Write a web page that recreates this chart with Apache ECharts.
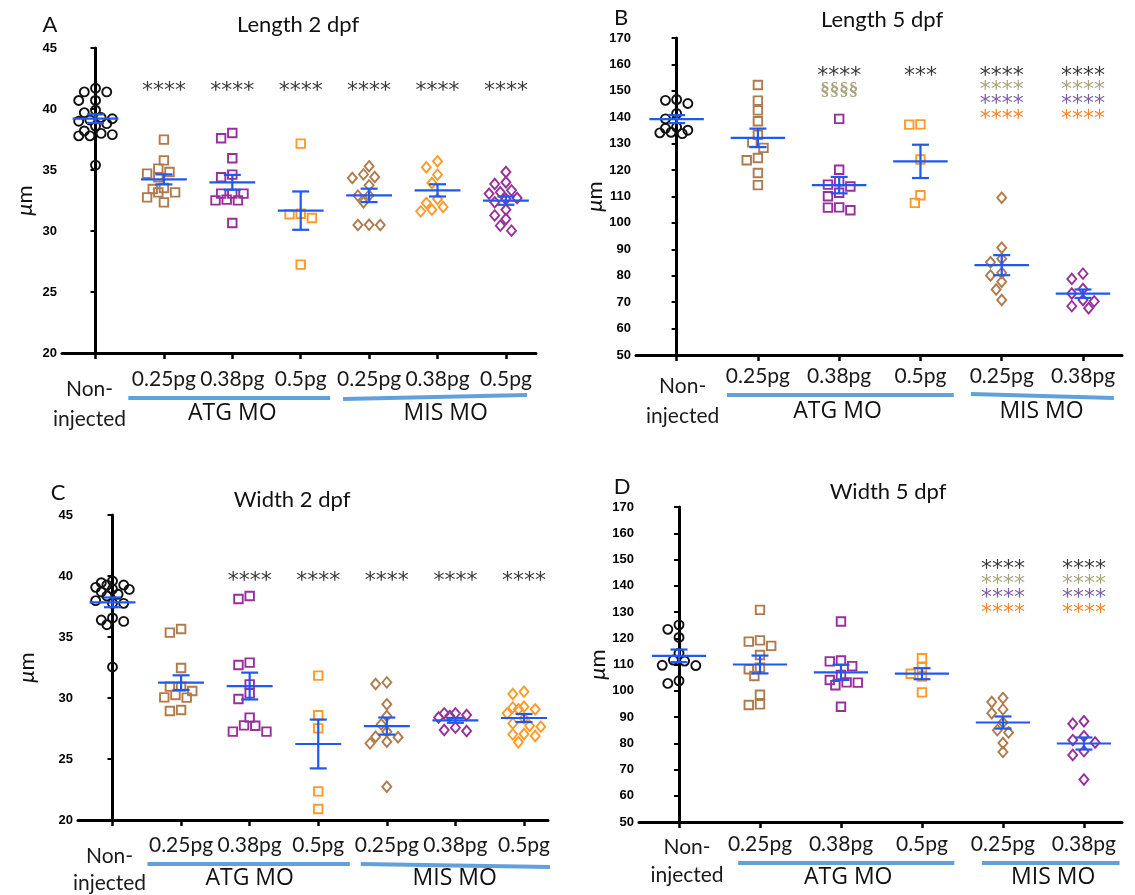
<!DOCTYPE html>
<html><head><meta charset="utf-8">
<script src="https://cdn.jsdelivr.net/npm/echarts@6/dist/echarts.min.js"></script>
<style>html,body{margin:0;padding:0;background:#fff}#c{width:1135px;height:895px}</style>
</head><body><div id="c"></div>
<script>
// ---------- categories / tick labels ----------
const catLabels7 = ['Non-injected','0.25pg','0.38pg','0.5pg','0.25pg','0.38pg','0.5pg'];
const catLabels6 = ['Non-injected','0.25pg','0.38pg','0.5pg','0.25pg','0.38pg'];
const groupNames = ['ATG MO','MIS MO'];

// ---------- Panel A: Length 2 dpf (µm) ----------
const lenTwoDpf = [
  [41.7,41.4,41.4,40.7,40.7,39.9,39.7,39.3,39.2,39.1,39.0,38.8,38.6,38.2,38.0,37.9,37.8,37.8,35.4],
  [37.49,35.79,35.11,34.84,34.70,34.40,33.52,33.44,33.17,33.17,32.76,32.35],
  [38.03,37.60,35.96,34.62,34.40,33.06,33.06,33.06,32.51,32.51,32.57,30.66],
  [37.16,31.37,31.42,31.07,27.24],
  [35.30,34.43,34.64,34.34,33.74,32.90,32.92,32.35,30.52,30.49,30.49],
  [35.71,35.22,34.62,33.93,32.62,32.30,31.97,31.75,31.61],
  [34.84,33.99,33.85,33.33,33.17,33.06,32.70,32.62,32.35,31.75,31.28,30.98,30.44,30.03]
];
const lenTwoDpfMean = [39.21,34.23,33.99,31.67,32.92,33.33,32.49];
const lenTwoDpfSem  = [0.35,0.41,0.61,1.57,0.55,0.50,0.34];

// ---------- Panel B: Length 5 dpf ----------
const lenFiveDpf = [
  [146.7,146.4,145.2,141.4,139.4,136.3,135.8,135.1,134.3,134.1,133.8],
  [152.2,146.3,142.6,138.5,133.4,130.5,128.4,124.6,123.7,118.9,114.3],
  [139.4,120.1,115.8,114.5,113.8,111.4,110.1,105.9,105.8,104.8],
  [137.3,137.2,124.0,110.5,107.6],
  [109.5,90.6,86.4,85.1,81.1,80.1,77.7,74.8,70.8],
  [80.8,78.8,75.0,73.3,70.8,70.3,68.5,67.7]
];
const lenFiveDpfMean = [139.3,132.2,114.3,123.3,84.0,73.2];
const lenFiveDpfSem  = [1.5,3.5,3.1,6.3,3.8,1.6];

// ---------- Panel C: Width 2 dpf ----------
const widTwoDpf = [
  [39.59,39.45,39.26,39.26,39.07,38.93,38.90,38.69,38.50,38.36,37.98,37.76,37.76,36.56,36.39,36.28,36.01,32.54],
  [35.66,35.36,32.46,30.93,30.93,30.57,30.25,30.05,30.03,29.02,28.93],
  [38.36,38.11,32.90,32.70,31.12,30.38,29.92,28.39,27.76,27.73,27.24,27.24],
  [31.83,28.58,27.51,22.35,20.90],
  [31.28,31.15,29.48,28.52,27.84,27.24,26.83,26.78,26.42,26.28,22.73],
  [28.74,28.74,28.61,28.52,28.40,27.57,27.38,27.30],
  [30.52,30.33,29.29,29.23,29.07,29.07,28.74,28.33,27.92,27.73,27.65,27.05,27.02,26.89,26.37]
];
const widTwoDpfMean = [37.84,31.26,30.98,26.23,27.70,28.17,28.36];
const widTwoDpfSem  = [0.40,0.60,1.10,2.00,0.70,0.20,0.33];

// ---------- Panel D: Width 5 dpf ----------
const widFiveDpf = [
  [125.1,123.4,120.3,114.3,111.7,111.3,109.7,109.6,103.8,102.8],
  [130.8,119.2,118.7,117.1,113.6,108.8,108.2,105.6,98.5,94.8,94.6],
  [126.4,111.5,111.2,109.4,106.0,104.1,103.2,103.1,102.1,93.9],
  [112.4,108.9,106.5,105.4,99.4],
  [97.2,95.7,92.9,91.4,87.9,85.0,84.1,80.1,76.7],
  [88.4,87.4,82.7,81.2,80.3,77.0,75.5,66.2]
];
const widFiveDpfMean = [113.3,110.0,107.0,106.5,87.9,79.9];
const widFiveDpfSem  = [2.4,3.4,2.9,2.1,2.3,2.3];

// ---------- significance marks ----------
const sigLenTwo = ['', '****','****','****','****','****','****'];
const sigWidTwo = ['', '','****','****','****','****','****'];
const sigLenFiveRow1 = ['', '', '****','***','****','****'];
const sigLenFiveSect = ['', '', '§§§§','','',''];
const sigFourRow = ['', '', '', '', '****','****'];

// ---------- styles ----------
const BLACK='#111111', BROWN='#b07b4c', PURPLE='#982f9a', ORANGE='#ff9a26', MEANBLUE='#1f58f2', BARBLUE='#62a0dc';
const S_BLACK='#3a3a3a', S_KHAKI='#aaa47c', S_PURPLE='#7b5ea7', S_ORANGE='#f5842a';
const mA = [['circle',BLACK],['rect',BROWN],['rect',PURPLE],['rect',ORANGE],['diamond',BROWN],['diamond',ORANGE],['diamond',PURPLE]];
const mC = [['circle',BLACK],['rect',BROWN],['rect',PURPLE],['rect',ORANGE],['diamond',BROWN],['diamond',PURPLE],['diamond',ORANGE]];
const mB = [['circle',BLACK],['rect',BROWN],['rect',PURPLE],['rect',ORANGE],['diamond',BROWN],['diamond',PURPLE]];
const STAR = '22px "DejaVu Sans"';
const SECT = 'bold 19px "Liberation Serif"';
const CATFONT = '21px Lato';

const panels = [
 { letter:'A', title:'Length 2 dpf', letterPos:[50,25], titlePos:[298,25],
   grid:{left:62,top:48,width:474,height:305}, xMin:-0.49, xMax:6.44, yMin:20, yMax:45, yStep:5,
   values:lenTwoDpf, mean:lenTwoDpfMean, sem:lenTwoDpfSem, marks:mA, labels:catLabels7,
   labMargin:15.5, nonInj:[-6,36,66], nameGap:26,
   bars:[[0.48,3.43,45,45],[3.62,6.31,46,42]], groups:[[2.0,60],[5.12,60]],
   sig:[{level:41.86,color:S_BLACK,font:STAR,dy:5,texts:sigLenTwo}] },
 { letter:'B', title:'Length 5 dpf', letterPos:[621,18], titlePos:[882,20],
   grid:{left:636,top:38,width:486,height:317}, xMin:-0.5, xMax:5.48, yMin:50, yMax:170, yStep:10,
   values:lenFiveDpf, mean:lenFiveDpfMean, sem:lenFiveDpfSem, marks:mB, labels:catLabels6,
   labMargin:11.2, nonInj:[6,31,61], nameGap:24,
   bars:[[0.62,3.41,40,40],[3.62,5.38,39,43]], groups:[[1.98,56],[4.49,56]],
   sig:[{level:157.4,color:S_BLACK,font:STAR,dy:5,texts:sigLenFiveRow1},
        {level:150.2,color:S_KHAKI,font:SECT,dy:0,texts:sigLenFiveSect},
        {level:152.1,color:S_KHAKI,font:STAR,dy:5,texts:sigFourRow},
        {level:146.7,color:S_PURPLE,font:STAR,dy:5,texts:sigFourRow},
        {level:141.0,color:S_ORANGE,font:STAR,dy:5,texts:sigFourRow}] },
 { letter:'C', title:'Width 2 dpf', letterPos:[58,493], titlePos:[292,500],
   grid:{left:78,top:515,width:470,height:305}, xMin:-0.503, xMax:6.35, yMin:20, yMax:45, yStep:5,
   values:widTwoDpf, mean:widTwoDpfMean, sem:widTwoDpfSem, marks:mC, labels:catLabels7,
   labMargin:14.5, nonInj:[-3,36,63], nameGap:40,
   bars:[[0.51,3.46,44,44],[3.62,6.38,44,47]], groups:[[2.0,58],[4.99,58]],
   sig:[{level:40.0,color:S_BLACK,font:STAR,dy:5,texts:sigWidTwo}] },
 { letter:'D', title:'Width 5 dpf', letterPos:[622,487], titlePos:[888,492],
   grid:{left:639,top:507,width:483,height:315}, xMin:-0.494, xMax:5.47, yMin:50, yMax:170, yStep:10,
   values:widFiveDpf, mean:widFiveDpfMean, sem:widFiveDpfSem, marks:mB, labels:catLabels6,
   labMargin:11.5, nonInj:[8,25,53], nameGap:30,
   bars:[[0.73,3.40,41,41],[3.74,5.44,41,41]], groups:[[2.09,55],[4.62,55]],
   sig:[{level:148.2,color:S_BLACK,font:STAR,dy:5,texts:sigFourRow},
        {level:142.6,color:S_KHAKI,font:STAR,dy:5,texts:sigFourRow},
        {level:137.3,color:S_PURPLE,font:STAR,dy:5,texts:sigFourRow},
        {level:131.5,color:S_ORANGE,font:STAR,dy:5,texts:sigFourRow}] }
];

// deterministic beeswarm offsets (pixels) computed from the values, limited to +-maxK steps
function swarm(vals, ppu, step, dmin, maxK){
  const idx = vals.map((v,i)=>i).sort((a,b)=>vals[b]-vals[a]);
  const placed=[], off=new Array(vals.length).fill(0);
  const cands=[0]; for(let k=1;k<=maxK;k++){cands.push(-k,k);}
  for(const i of idx){
    const y = vals[i]*ppu;
    let best=null, bestD=-1;
    for(const m of cands){
      const x=m*step;
      let d=Infinity; placed.forEach(p=>{d=Math.min(d,Math.hypot(p.x-x,p.y-y));});
      if(d>=dmin){best=x;break;}
      if(d>bestD){bestD=d;best=x;}
    }
    placed.push({x:best,y}); off[i]=best;
  }
  return off;
}

const chart = echarts.init(document.getElementById('c'), null, {renderer:'canvas'});
const grids=[], xAxes=[], yAxes=[], series=[];
panels.forEach((P,p)=>{
  grids.push(Object.assign({containLabel:false}, P.grid));
  const ticks = P.labels.map((_,i)=>i);
  xAxes.push({ type:'value', gridIndex:p, min:P.xMin, max:P.xMax,
    axisLine:{show:true,onZero:false,lineStyle:{color:'#000',width:3}},
    axisTick:{show:true,customValues:ticks,length:6,lineStyle:{color:'#000',width:2.5}},
    splitLine:{show:false},
    axisLabel:{show:true,customValues:ticks.slice(1),hideOverlap:false,
      margin:P.labMargin,fontFamily:'Lato',fontSize:21,lineHeight:21,color:'#1a1a1a',
      formatter:(v)=>P.labels[Math.round(v)]}
  });
  yAxes.push({ type:'value', gridIndex:p, min:P.yMin, max:P.yMax, interval:P.yStep,
    name:'{i|μ}m', nameLocation:'middle', nameRotate:90, nameGap:P.nameGap,
    nameTextStyle:{fontFamily:'Lato',fontSize:22,color:'#111',rich:{i:{fontFamily:'Lato',fontSize:22,fontStyle:'italic',color:'#111'}}},
    axisLine:{show:true,lineStyle:{color:'#000',width:3}},
    axisTick:{show:true,length:5,lineStyle:{color:'#000',width:2}},
    splitLine:{show:false},
    axisLabel:{margin:5,fontFamily:'Liberation Sans',fontWeight:'bold',fontSize:13,color:'#000'}
  });
  const ppu = P.grid.height/(P.yMax-P.yMin);
  P.values.forEach((vals,g)=>{
    const off = swarm(vals, ppu, 5.6, 8.6, 3);
    const mk = P.marks[g];
    const size = mk[0]==='circle'?9:(mk[0]==='rect'?8.5:[9,10.5]);
    series.push({ type:'scatter', xAxisIndex:p, yAxisIndex:p, symbol:mk[0], symbolSize:size, silent:true, z:2,
      itemStyle:{color:'rgba(0,0,0,0)',borderColor:mk[1],borderWidth:1.9,opacity:1},
      data: vals.map((v,i)=>({value:[g,v],symbolOffset:[off[i],0]})) });
  });
  series.push({ type:'custom', xAxisIndex:p, yAxisIndex:p, silent:true, z:5,
    data: P.mean.map((m,i)=>[i,m,P.sem[i]]),
    renderItem:(params,api)=>{
      const x=api.value(0), m=api.value(1), s=api.value(2);
      const pm=api.coord([x,m]), pt=api.coord([x,m+s]), pb=api.coord([x,m-s]);
      const hw=api.size([1,0])[0]*0.335, cw=8.5;
      const st={stroke:MEANBLUE,lineWidth:2.2};
      return {type:'group',children:[
        {type:'line',shape:{x1:pm[0]-hw,y1:pm[1],x2:pm[0]+hw,y2:pm[1]},style:st},
        {type:'line',shape:{x1:pt[0],y1:pt[1],x2:pb[0],y2:pb[1]},style:st},
        {type:'line',shape:{x1:pt[0]-cw,y1:pt[1],x2:pt[0]+cw,y2:pt[1]},style:st},
        {type:'line',shape:{x1:pb[0]-cw,y1:pb[1],x2:pb[0]+cw,y2:pb[1]},style:st}]};
    }});
  const sigData=[];
  P.sig.forEach((row,r)=>row.texts.forEach((t,c)=>{ if(t) sigData.push([c,row.level,r]); }));
  series.push({ type:'custom', xAxisIndex:p, yAxisIndex:p, silent:true, z:4, data:sigData,
    renderItem:(params,api)=>{
      const row=P.sig[api.value(2)], c=api.value(0);
      const pt=api.coord([c,api.value(1)]);
      return {type:'text',x:pt[0],y:pt[1]+row.dy,
        style:{text:row.texts[c],font:row.font,fill:row.color,align:'center',verticalAlign:'middle',textAlign:'center',textVerticalAlign:'middle'}};
    }});
});

chart.setOption({animation:false,backgroundColor:'#fff',grid:grids,xAxis:xAxes,yAxis:yAxes,series:series});

// decorations positioned through the axes
const gfx=[];
panels.forEach((P,p)=>{
  gfx.push({type:'text',x:P.letterPos[0],y:P.letterPos[1],style:{text:P.letter,font:'22px Lato',fill:'#111',align:'center',verticalAlign:'middle'}});
  gfx.push({type:'text',x:P.titlePos[0],y:P.titlePos[1],style:{text:P.title,font:'22px Lato',fill:'#111',align:'center',verticalAlign:'middle'}});
  const axisY = P.grid.top+P.grid.height;
  const x0 = chart.convertToPixel({xAxisIndex:p},0)+P.nonInj[0];
  const parts = P.labels[0].replace('-','-\n').split('\n');
  gfx.push({type:'text',x:x0,y:axisY+P.nonInj[1],style:{text:parts[0],font:CATFONT,fill:'#1a1a1a',align:'center',verticalAlign:'middle'}});
  gfx.push({type:'text',x:x0,y:axisY+P.nonInj[2],style:{text:parts[1],font:CATFONT,fill:'#1a1a1a',align:'center',verticalAlign:'middle'}});
  P.bars.forEach(b=>{
    const x1=chart.convertToPixel({xAxisIndex:p},b[0]), x2=chart.convertToPixel({xAxisIndex:p},b[1]);
    gfx.push({type:'line',shape:{x1:x1,y1:axisY+b[2],x2:x2,y2:axisY+b[3]},style:{stroke:BARBLUE,lineWidth:4}});
  });
  P.groups.forEach((g,k)=>{
    const gx=chart.convertToPixel({xAxisIndex:p},g[0]);
    gfx.push({type:'text',x:gx,y:axisY+g[1],style:{text:groupNames[k],font:'23px "Open Sans"',fill:'#111',align:'center',verticalAlign:'middle'}});
  });
});
chart.setOption({graphic:gfx});
</script></body></html>
